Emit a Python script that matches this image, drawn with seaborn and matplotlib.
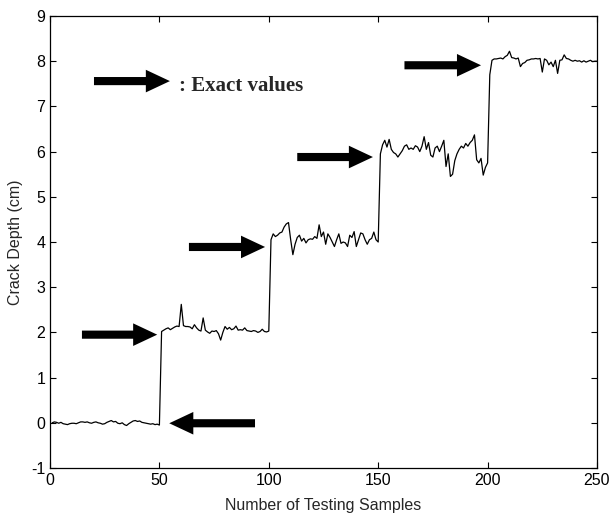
import numpy as np
import pandas as pd
import matplotlib
matplotlib.use("Agg")
import matplotlib.pyplot as plt
import seaborn as sns
from matplotlib.patches import FancyArrow

seg0 = [0.00, 0.02, 0.01, -0.01, 0.01, -0.02, -0.03, -0.04, -0.02, -0.01,
        -0.01, -0.02, 0.00, 0.02, 0.02, 0.01, 0.02, 0.00, -0.01, 0.01,
        0.02, 0.00, -0.01, -0.03, -0.02, 0.01, 0.03, 0.05, 0.02, 0.03,
        -0.01, -0.02, 0.00, -0.04, -0.06, -0.02, 0.01, 0.04, 0.05, 0.03,
        0.04, 0.01, 0.00, -0.01, -0.02, -0.03, -0.02, -0.04, -0.03, -0.05]
seg2 = [2.02, 2.05, 2.08, 2.10, 2.06, 2.09, 2.12, 2.14, 2.13, 2.62,
        2.15, 2.13, 2.13, 2.12, 2.08, 2.17, 2.10, 2.05, 2.03, 2.32,
        2.05, 2.01, 1.98, 2.03, 2.02, 2.04, 1.97, 1.83, 2.00, 2.13,
        2.07, 2.11, 2.06, 2.08, 2.14, 2.05, 2.06, 2.05, 2.10, 2.04,
        2.03, 2.02, 2.04, 2.03, 2.00, 2.02, 2.07, 2.02, 2.01, 2.03]
seg4 = [4.05, 4.18, 4.12, 4.15, 4.20, 4.22, 4.33, 4.40, 4.43, 4.05,
        3.72, 3.95, 4.10, 4.15, 4.02, 4.08, 3.98, 4.05, 4.07, 4.06,
        4.12, 4.08, 4.38, 4.12, 4.22, 3.95, 4.18, 4.10, 4.00, 3.90,
        4.05, 4.18, 3.97, 4.00, 3.98, 3.90, 4.15, 4.10, 4.23, 3.90,
        4.05, 4.20, 4.18, 4.05, 3.95, 4.05, 4.08, 4.22, 4.05, 4.00]
seg6 = [5.95, 6.15, 6.25, 6.10, 6.27, 6.05, 5.98, 5.95, 5.88, 5.95,
        6.02, 6.12, 6.15, 6.05, 6.08, 6.05, 6.13, 6.10, 6.00, 6.12,
        6.33, 6.05, 6.20, 5.92, 5.88, 6.08, 6.12, 6.00, 6.12, 6.25,
        5.67, 5.95, 5.45, 5.50, 5.80, 5.95, 6.05, 6.12, 6.08, 6.18,
        6.12, 6.20, 6.25, 6.37, 5.82, 5.75, 5.85, 5.48, 5.65, 5.75]
seg8 = [7.70, 8.02, 8.05, 8.05, 8.06, 8.07, 8.05, 8.10, 8.13, 8.22,
        8.08, 8.07, 8.05, 8.07, 7.88, 7.95, 7.97, 8.02, 8.03, 8.05,
        8.05, 8.06, 8.05, 8.06, 7.76, 8.05, 8.02, 7.92, 7.98, 7.88,
        8.02, 7.73, 8.02, 8.03, 8.14, 8.06, 8.05, 8.02, 8.00, 8.02,
        8.00, 8.01, 7.98, 8.01, 7.98, 8.00, 8.02, 7.99, 8.00, 8.00]

depth = seg0 + seg2 + seg4 + seg6 + seg8
samples = np.arange(1, len(depth) + 1)

x_ticks = [0, 50, 100, 150, 200, 250]
y_ticks = [-1, 0, 1, 2, 3, 4, 5, 6, 7, 8, 9]

# arrows: (tail_x, tip_x, y)
arrows = [(93.7, 54.5, -0.01), (14.6, 49.0, 1.95), (63.5, 98.3, 3.89),
          (113.0, 147.6, 5.88), (162.0, 197.0, 7.91)]
legend_arrow = (20.1, 54.8, 7.56)
legend_text = ": Exact values"

sns.set_style("ticks")
plt.rcParams['font.family'] = ['Liberation Sans', 'DejaVu Sans']
plt.rcParams['axes.unicode_minus'] = False
plt.rcParams['xtick.direction'] = 'in'
plt.rcParams['ytick.direction'] = 'in'

fig = plt.figure(figsize=(6.12, 5.17), dpi=100)
ax = fig.add_axes([50 / 612, 1 - 468 / 517, 547 / 612, 452 / 517])

df = pd.DataFrame({"x": samples, "y": depth})
sns.lineplot(data=df, x="x", y="y", ax=ax, color="black", linewidth=0.9)

ax.set_xlim(0, 250)
ax.set_ylim(-1, 9)
ax.set_xticks(x_ticks)
ax.set_yticks(y_ticks)
ax.tick_params(top=True, right=True, labelsize=11.5, length=4, width=0.8, colors='black')
for s in ax.spines.values():
    s.set_visible(True)
    s.set_linewidth(0.9)
    s.set_color('black')
ax.set_xlabel("Number of Testing Samples", fontsize=11.5, labelpad=7)
ax.set_ylabel("Crack Depth (cm)", fontsize=11.5, labelpad=6)

def add_arrow(tail, tip, y):
    ax.add_patch(FancyArrow(tail, y, tip - tail, 0, width=0.18, head_width=0.50,
                            head_length=11.0, length_includes_head=True,
                            color='black', linewidth=0))

for tail, tip, y in arrows:
    add_arrow(tail, tip, y)
add_arrow(*legend_arrow)
ax.text(59.0, 7.45, legend_text, fontsize=15, fontweight='bold',
        family=['Liberation Serif', 'DejaVu Serif'], va='center', ha='left')

fig.savefig("out.png", dpi=100)
